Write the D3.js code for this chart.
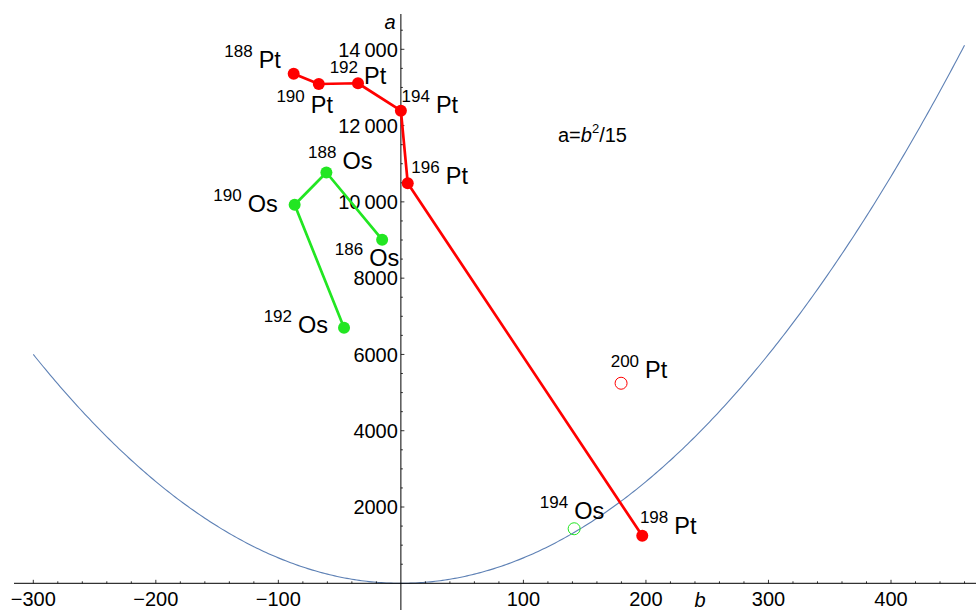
<!DOCTYPE html>
<html>
<head>
<meta charset="utf-8">
<script src="https://cdn.jsdelivr.net/npm/d3@7"></script>
<style>
  body { margin: 0; background: #fff; }
  svg { display: block; font-family: "Liberation Sans", Arial, sans-serif; }
</style>
</head>
<body>
<div id="chart"></div>
<script>
// nuclide data: b and a values
const ptMass = [188, 190, 192, 194, 196, 198];
const ptB = [-87.5, -67, -35, 0, 5.6, 197];
const ptA = [13360, 13090, 13110, 12390, 10490, 1245];

const osMass = [186, 188, 190, 192];
const osB = [-15.3, -60.8, -86.7, -46.4];
const osA = [9010, 10770, 9925, 6700];

// open (unconnected) points
const openLabels = ["200 Pt", "194 Os"];
const openB = [179.7, 141.4];
const openA = [5245, 1430];

const xTicks = [-300, -200, -100, 100, 200, 300, 400];
const yTicks = [2000, 4000, 6000, 8000, 10000, 12000, 14000];

// label placement (pixels from the point)
const ptLabelOffset = [[-35, -6], [-8, 29], [6, 1], [35, 2], [38, 1], [32, -2]];
const osLabelOffset = [[-13, 26], [16, -4], [-47, 7], [-46, 5]];
const openLabelOffset = [[24, -5], [0, -10]];

const width = 976, height = 610;
const svg = d3.select('#chart').append('svg')
    .attr('width', width)
    .attr('height', height);

const x = d3.scaleLinear().domain([-300, 400]).range([33.3, 891]);
const y = d3.scaleLinear().domain([0, 14000]).range([583.3, 49.3]);

const red = '#ff0000';
const green = '#22e622';

// parabola a = b^2/15
const curve = d3.range(-300, 460.5, 2).map(b => [b, b * b / 15]);
svg.append('path')
    .datum(curve)
    .attr('d', d3.line().x(d => x(d[0])).y(d => y(d[1])))
    .attr('fill', 'none')
    .attr('stroke', '#5e81b5')
    .attr('stroke-width', 1.1);

// axes
const x0 = x(0), y0 = y(0);
svg.append('line').attr('x1', 14).attr('x2', width).attr('y1', y0).attr('y2', y0)
    .attr('stroke', '#000').attr('stroke-width', 1);
svg.append('line').attr('x1', x0).attr('x2', x0).attr('y1', 14).attr('y2', height)
    .attr('stroke', '#000').attr('stroke-width', 1);

// x ticks
const xMinor = d3.range(-300, 461, 20).filter(v => v !== 0);
svg.append('g').selectAll('line').data(xMinor).enter().append('line')
    .attr('x1', d => x(d)).attr('x2', d => x(d))
    .attr('y1', y0).attr('y2', d => y0 - (d % 100 === 0 ? 3.5 : 2))
    .attr('stroke', '#000').attr('stroke-width', 0.8);
svg.append('g').selectAll('text').data(xTicks).enter().append('text')
    .attr('x', d => x(d)).attr('y', 606)
    .attr('text-anchor', 'middle')
    .attr('font-size', 20)
    .text(d => d < 0 ? '\u2212' + Math.abs(d) : d);

// y ticks
const yMinor = d3.range(500, 14600, 500);
svg.append('g').selectAll('line').data(yMinor).enter().append('line')
    .attr('x1', x0).attr('x2', d => x0 + (d % 2000 === 0 ? 3.5 : 2))
    .attr('y1', d => y(d)).attr('y2', d => y(d))
    .attr('stroke', '#000').attr('stroke-width', 0.8);
const fmtY = d => d >= 10000 ? Math.floor(d / 1000) + '\u2009' + String(d % 1000).padStart(3, '0') : String(d);
svg.append('g').selectAll('text').data(yTicks).enter().append('text')
    .attr('x', x0 - 3).attr('y', d => y(d))
    .attr('dy', '0.36em')
    .attr('text-anchor', 'end')
    .attr('font-size', 20)
    .text(fmtY);

// axis names
svg.append('text').attr('x', 700).attr('y', 607).attr('text-anchor', 'middle')
    .attr('font-size', 20).attr('font-style', 'italic').text('b');
svg.append('text').attr('x', 390).attr('y', 29).attr('text-anchor', 'middle')
    .attr('font-size', 20).attr('font-style', 'italic').text('a');

// formula
const f = svg.append('text').attr('x', 558).attr('y', 142).attr('font-size', 20);
f.append('tspan').text('a=');
f.append('tspan').attr('font-style', 'italic').text('b');
f.append('tspan').attr('font-size', 13).attr('dy', -9).text('2');
f.append('tspan').attr('dy', 9).text('/15');

// connected series
function series(masses, bs, as, color, symbol, offsets) {
    const pts = masses.map((m, i) => ({ m, b: bs[i], a: as[i], off: offsets[i] }));
    svg.append('path')
        .datum(pts)
        .attr('d', d3.line().x(d => x(d.b)).y(d => y(d.a)))
        .attr('fill', 'none')
        .attr('stroke', color)
        .attr('stroke-width', 2.7)
        .attr('stroke-linejoin', 'round');
    svg.append('g').selectAll('circle').data(pts).enter().append('circle')
        .attr('cx', d => x(d.b)).attr('cy', d => y(d.a))
        .attr('r', 6)
        .attr('fill', color);
    pts.forEach(d => nuclideLabel(x(d.b) + d.off[0], y(d.a) + d.off[1], d.m, symbol));
}

function nuclideLabel(sx, sy, mass, symbol) {
    svg.append('text')
        .attr('x', sx - 6).attr('y', sy - 11)
        .attr('text-anchor', 'end')
        .attr('font-size', 17)
        .text(mass);
    svg.append('text')
        .attr('x', sx).attr('y', sy)
        .attr('font-size', 23.5)
        .text(symbol);
}

series(osMass, osB, osA, green, 'Os', osLabelOffset);
series(ptMass, ptB, ptA, red, 'Pt', ptLabelOffset);

// open points
const openColors = [red, green];
openLabels.forEach((lab, i) => {
    const [mass, symbol] = lab.split(' ');
    svg.append('circle')
        .attr('cx', x(openB[i])).attr('cy', y(openA[i]))
        .attr('r', 6)
        .attr('fill', 'none')
        .attr('stroke', openColors[i])
        .attr('stroke-width', 1);
    nuclideLabel(x(openB[i]) + openLabelOffset[i][0], y(openA[i]) + openLabelOffset[i][1], mass, symbol);
});
</script>
</body>
</html>
